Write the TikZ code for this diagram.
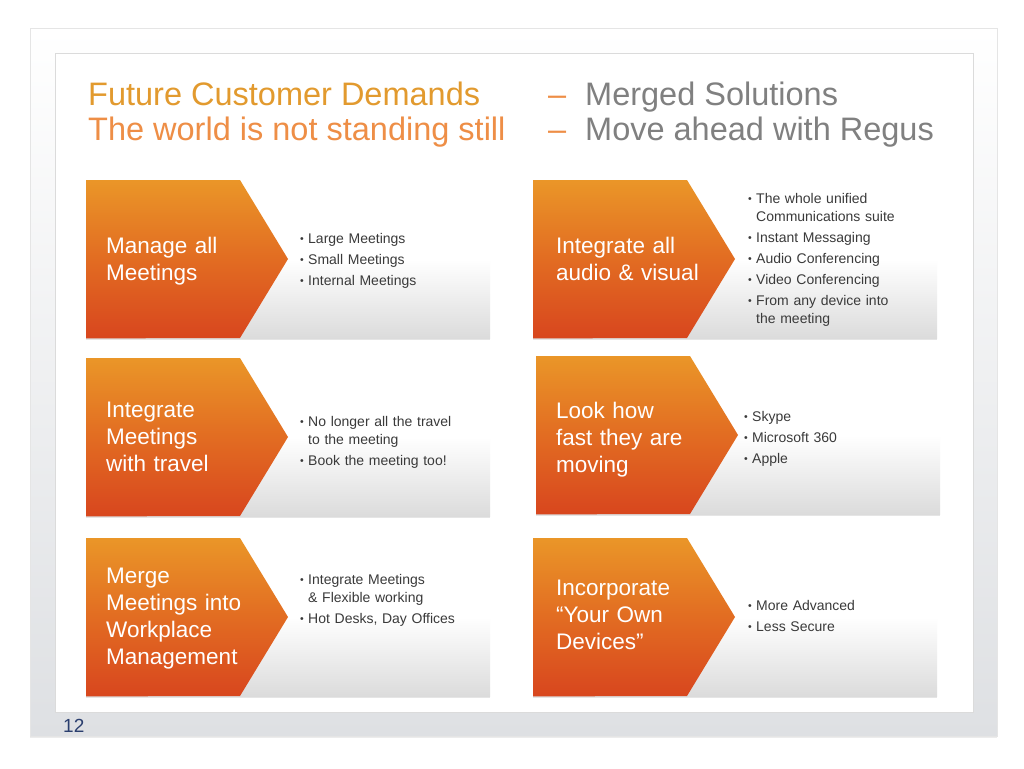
\documentclass[tikz,border=0pt]{standalone}
\usepackage{fontspec}
\setmainfont{Liberation Sans}
\usetikzlibrary{shadows}
\definecolor{chevtop}{RGB}{234,150,40}
\definecolor{chevmid}{RGB}{226,108,34}
\definecolor{chevbot}{RGB}{216,70,30}
\definecolor{titlegold}{RGB}{226,154,46}
\definecolor{titleorange}{RGB}{238,142,70}
\definecolor{subgray}{RGB}{128,128,128}
\definecolor{bodytext}{RGB}{58,58,58}
\definecolor{pageblue}{RGB}{42,62,110}
\definecolor{framegray}{RGB}{222,224,227}
\newcommand{\bitem}[1]{\leavevmode\hangindent=8pt\hangafter=1%
  \makebox[8pt][l]{\raisebox{1pt}{\fontsize{10.5}{10}\selectfont\textbullet}}#1\par\vspace{3pt}}
\tikzset{
    panel/.style={rectangle, anchor=north west, minimum width=404pt, minimum height=158pt,
                  inner sep=0pt, top color=white, bottom color=black!14, middle color=white,
                  drop shadow={opacity=0.2, shadow xshift=0pt, shadow yshift=-2pt}},
    chevron/.style={top color=chevtop, bottom color=chevbot, middle color=chevmid},
    headline/.style={anchor=base west, inner sep=0pt, font=\fontsize{32.5}{36}\selectfont},
    cardtitle/.style={anchor=base west, inner sep=0pt, text width=175pt, align=left,
                      text=white, font=\fontsize{22.5}{27}\selectfont},
    bulletlist/.style={anchor=base west, inner sep=0pt, text width=200pt, align=left,
                       text=bodytext, font=\fontsize{14}{18}\selectfont}
}
\begin{document}
\begin{tikzpicture}[x=1pt, y=-1pt]
    \useasboundingbox (0,0) rectangle (1024,768);

    % Slide frame
    \shade[top color=white, bottom color=framegray, draw=black!10,
           drop shadow={opacity=0.15, shadow xshift=0pt, shadow yshift=-2pt}] (30,28) rectangle (997,736);
    \draw[black!14, fill=white] (55,53) rectangle (973,712);

    % Headline
    \node[headline, text=titlegold] (demands) at (88,105) {Future Customer Demands};
    \node[headline, text=titleorange] (still) at (88,140) {The world is not standing still};
    \node[headline, text=titleorange] (dash1) at (548,105) {–};
    \node[headline, text=titleorange] (dash2) at (548,140) {–};
    \node[headline, text=subgray] (merged) at (585,105) {Merged Solutions};
    \node[headline, text=subgray] (ahead) at (585,140) {Move ahead with Regus};

    % Manage all Meetings
    \node[panel] (meet) at (86,180) {};
    \shade[chevron] (meet.north west) -- ++(154,0) -- ++(48,79) -- ++(-48,79) -- (meet.south west) -- cycle;
    \node[cardtitle] (meet-t) at ([shift={(20,73)}]meet.north west) {Manage all\\Meetings};
    \node[bulletlist] (meet-b) at ([shift={(214,63)}]meet.north west)
        {\bitem{Large Meetings}\bitem{Small Meetings}\bitem{Internal Meetings}};

    % Integrate Meetings with travel
    \node[panel] (travel) at (86,358) {};
    \shade[chevron] (travel.north west) -- ++(154,0) -- ++(48,79) -- ++(-48,79) -- (travel.south west) -- cycle;
    \node[cardtitle] (travel-t) at ([shift={(20,59)}]travel.north west) {Integrate\\Meetings\\with travel};
    \node[bulletlist] (travel-b) at ([shift={(214,68)}]travel.north west)
        {\bitem{No longer all the travel\newline to the meeting}\bitem{Book the meeting too!}};

    % Merge Meetings into Workplace Management
    \node[panel] (work) at (86,538) {};
    \shade[chevron] (work.north west) -- ++(154,0) -- ++(48,79) -- ++(-48,79) -- (work.south west) -- cycle;
    \node[cardtitle] (work-t) at ([shift={(20,45)}]work.north west) {Merge\\Meetings into\\Workplace\\Management};
    \node[bulletlist] (work-b) at ([shift={(214,46)}]work.north west)
        {\bitem{Integrate Meetings\newline \& Flexible working}\bitem{Hot Desks, Day Offices}};

    % Integrate all audio & visual
    \node[panel] (av) at (533,180) {};
    \shade[chevron] (av.north west) -- ++(154,0) -- ++(48,79) -- ++(-48,79) -- (av.south west) -- cycle;
    \node[cardtitle] (av-t) at ([shift={(23,73)}]av.north west) {Integrate all\\audio \& visual};
    \node[bulletlist] (av-b) at ([shift={(215,23)}]av.north west)
        {\bitem{The whole unified\newline Communications suite}\bitem{Instant Messaging}\bitem{Audio Conferencing}%
         \bitem{Video Conferencing}\bitem{From any device into\newline the meeting}};

    % Look how fast they are moving
    \node[panel] (speed) at (536,356) {};
    \shade[chevron] (speed.north west) -- ++(154,0) -- ++(48,79) -- ++(-48,79) -- (speed.south west) -- cycle;
    \node[cardtitle] (speed-t) at ([shift={(20,62)}]speed.north west) {Look how\\fast they are\\moving};
    \node[bulletlist] (speed-b) at ([shift={(208,65)}]speed.north west)
        {\bitem{Skype}\bitem{Microsoft 360}\bitem{Apple}};

    % Incorporate Your Own Devices
    \node[panel] (own) at (533,538) {};
    \shade[chevron] (own.north west) -- ++(154,0) -- ++(48,79) -- ++(-48,79) -- (own.south west) -- cycle;
    \node[cardtitle] (own-t) at ([shift={(23,57)}]own.north west) {Incorporate\\“Your Own\\Devices”};
    \node[bulletlist] (own-b) at ([shift={(215,72)}]own.north west)
        {\bitem{More Advanced}\bitem{Less Secure}};

    % Page number
    \node[anchor=base west, inner sep=0pt, text=pageblue, font=\fontsize{19}{19}\selectfont] (page) at (63,732) {12};
\end{tikzpicture}
\end{document}
